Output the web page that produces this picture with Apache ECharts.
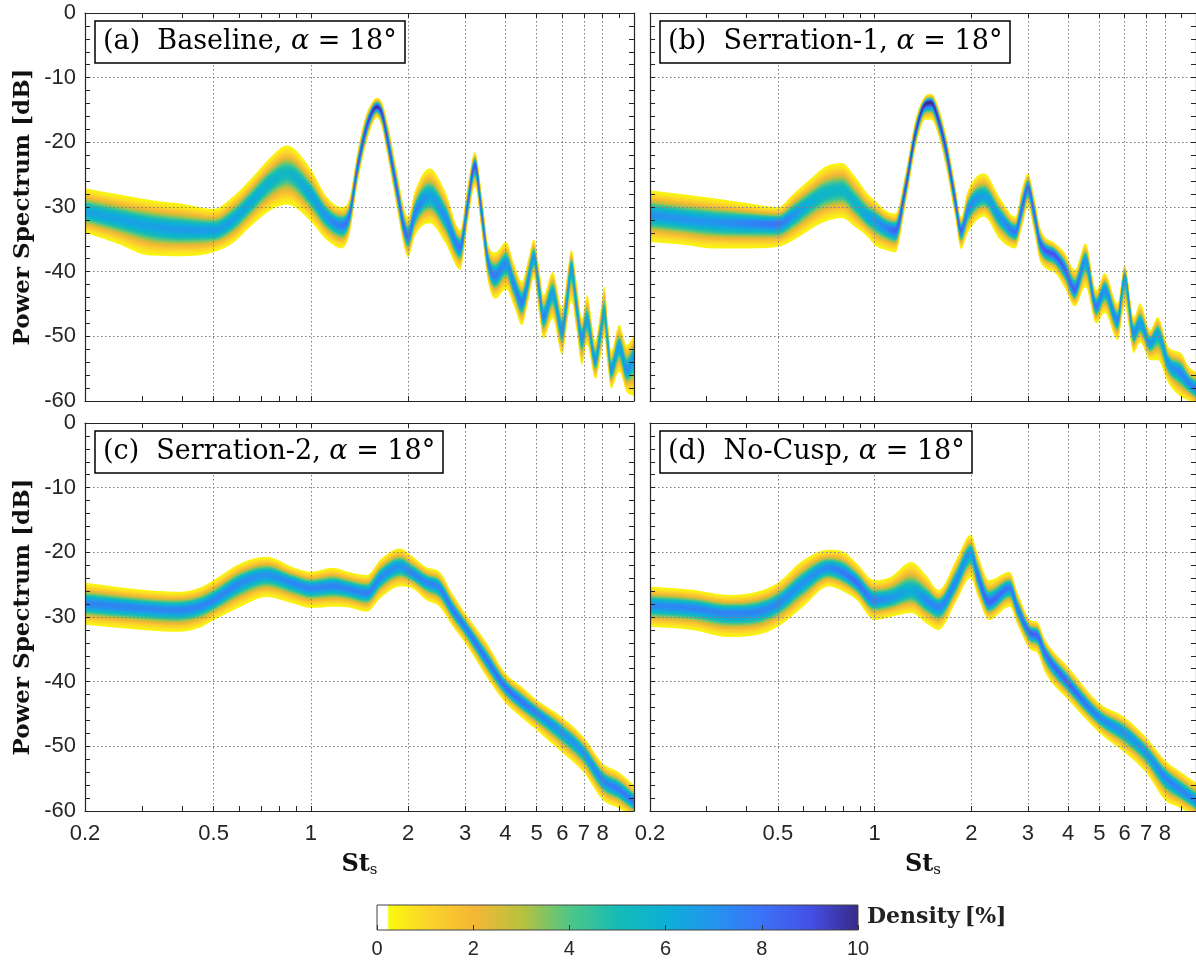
<!DOCTYPE html>
<html><head><meta charset="utf-8">
<script src="https://cdn.jsdelivr.net/npm/echarts@6/dist/echarts.min.js"></script>
<style>html,body{margin:0;padding:0;background:#fff;}#c{width:1196px;height:961px;}</style>
</head><body><div id="c"></div>
<script>
// ---------------- data ----------------
// st = Strouhal number, hi/lo = outer envelope [dB], mid = densest line [dB], pk = density at the core [%]
// (a) Baseline
const stA  = [0.2,0.25,0.318,0.4,0.5,0.58,0.648,0.75,0.844,0.99,1.12,1.25,1.32,1.39,1.47,1.53,1.60,1.66,1.72,1.84,1.95,2.0,2.1,2.33,2.6,2.9,3.05,3.22,3.38,3.54,3.72,4.02,4.25,4.5,4.7,4.9,5.08,5.25,5.6,6.0,6.2,6.4,6.65,6.9,7.15,7.6,7.85,8.1,8.3,8.5,9.0,9.5,10];
const hiA  = [-27.1,-28.0,-28.9,-29.5,-30.3,-28.2,-25.8,-22.3,-20.5,-23.8,-28.4,-30.0,-28.5,-21.8,-16.3,-14.2,-13.1,-13.8,-16.5,-24.0,-30.5,-31.5,-27.5,-24.0,-27.5,-33.5,-27.0,-21.5,-28.0,-35.8,-37.0,-35.4,-38.7,-41.5,-38.2,-35.0,-39.2,-43.6,-40.0,-45.6,-40.8,-36.6,-41.7,-47.2,-43.6,-50.7,-46.7,-42.3,-47.7,-52.3,-48.2,-51.3,-49.8];
const midA = [-30.7,-31.8,-32.9,-33.5,-33.6,-31.8,-29.4,-26.1,-24.7,-27.9,-31.5,-32.8,-31.0,-24.3,-18.6,-15.8,-14.5,-15.5,-19.1,-26.9,-33.5,-34.6,-31.0,-28.4,-31.5,-36.2,-30.0,-23.5,-31.0,-38.5,-40.6,-38.7,-42.0,-44.7,-41.5,-37.7,-42.5,-47.0,-43.3,-49.0,-44.5,-39.3,-45.5,-50.1,-47.5,-53.7,-50.0,-46.4,-51.0,-55.2,-51.6,-55.2,-53.0];
const loA  = [-34.0,-35.6,-37.5,-37.6,-37.0,-35.4,-33.1,-30.5,-29.6,-32.0,-35.1,-36.4,-34.0,-26.8,-21.0,-18.0,-16.2,-17.8,-21.7,-29.8,-36.5,-37.8,-34.5,-32.5,-35.5,-39.7,-33.0,-26.9,-34.0,-41.7,-44.2,-42.7,-45.3,-48.3,-44.8,-41.0,-46.3,-50.4,-47.3,-52.9,-48.3,-44.6,-49.3,-54.4,-51.3,-56.6,-53.8,-50.3,-54.8,-58.1,-55.5,-58.6,-59.2];
const pkA  = [6.5,6.5,6.6,6.8,6.8,6.5,6.3,5.8,5.3,6.5,7.0,7.8,8.2,9.0,9.3,9.6,10,9.6,9.2,8.8,8.5,8.2,7.8,6.5,7.2,8.0,8.5,9.0,8.5,8.0,7.8,7.2,7.5,7.8,7.3,7.0,7.3,7.5,6.5,7.3,7.0,6.5,7.0,7.2,6.3,7.0,6.5,6.0,6.5,7.0,6.5,7.2,7.0];
// (b) Serration-1
const stB  = [0.2,0.25,0.313,0.4,0.5,0.56,0.626,0.70,0.79,0.87,0.95,1.0,1.08,1.16,1.25,1.34,1.44,1.50,1.58,1.67,1.78,1.86,1.95,2.19,2.45,2.74,2.88,3.0,3.14,3.28,3.64,3.9,4.2,4.53,4.9,5.2,5.7,6.0,6.4,6.7,7.2,7.6,8.2,9.0,9.5,10];
const hiB  = [-27.4,-28.0,-28.6,-29.4,-30.0,-27.9,-25.8,-23.8,-23.2,-25.3,-27.9,-28.9,-30.5,-31.0,-24.5,-16.5,-12.8,-12.5,-14.5,-19.0,-26.5,-31.5,-27.5,-24.8,-28.5,-31.5,-27.0,-24.8,-28.5,-33.3,-35.6,-37.0,-39.7,-35.6,-42.8,-40.2,-44.9,-39.0,-47.0,-44.9,-49.0,-47.0,-51.6,-52.6,-54.7,-55.5];
const midB = [-31.2,-31.8,-32.3,-32.5,-32.6,-31.2,-29.4,-27.9,-27.4,-29.4,-31.5,-32.0,-33.1,-33.6,-26.9,-18.6,-14.0,-13.8,-16.5,-21.2,-28.9,-33.6,-30.5,-28.4,-31.5,-33.8,-30.0,-26.9,-31.0,-35.6,-37.4,-39.5,-42.8,-38.2,-45.4,-42.8,-47.5,-40.8,-49.5,-48.0,-51.0,-49.5,-54.1,-55.7,-57.2,-58.0];
const loB  = [-35.4,-35.8,-36.4,-36.4,-36.2,-35.1,-33.6,-32.3,-31.7,-33.1,-34.6,-35.9,-36.6,-37.0,-29.5,-21.0,-16.5,-16.5,-19.0,-24.0,-31.5,-36.5,-34.0,-31.5,-35.0,-36.4,-33.0,-30.0,-34.0,-38.5,-40.2,-42.5,-45.4,-42.4,-48.0,-46.4,-50.6,-45.4,-52.6,-51.0,-53.7,-53.7,-57.2,-59.4,-60.0,-61.0];
const pkB  = [7,7,7,7.5,8,7,6,5.6,5.5,5.8,6.5,6.8,7.5,8.5,9.3,9.6,10,10,9.7,9.4,9,8.5,7.5,6.5,7,8,8.5,8.5,8.5,8.7,9,8.5,8.5,6.8,8,7.2,7.5,6.5,7.5,6.8,7.2,6.3,7,7.5,7.5,7.5];
// (c) Serration-2
const stC  = [0.2,0.302,0.385,0.45,0.5,0.606,0.73,0.88,1.0,1.17,1.3,1.49,1.65,1.89,2.05,2.28,2.5,2.75,3.0,3.5,4.0,4.5,5.0,6.0,7.0,8.0,9.0,10];
const hiC  = [-24.7,-25.8,-26.1,-25.5,-24.3,-21.7,-20.7,-22.3,-23.0,-22.4,-23.0,-23.5,-21.0,-19.4,-20.5,-22.3,-23.0,-26.5,-29.4,-34.0,-38.7,-40.8,-42.8,-45.5,-48.6,-52.6,-54.0,-56.0];
const midC = [-27.9,-28.6,-28.9,-28.4,-27.4,-24.7,-23.5,-24.7,-25.5,-25.2,-25.6,-26.3,-23.8,-22.2,-23.2,-24.6,-25.5,-28.9,-31.5,-36.6,-40.8,-43.1,-44.8,-47.9,-51.0,-55.2,-56.7,-58.6];
const loC  = [-31.2,-32.0,-32.3,-31.7,-30.5,-28.4,-26.9,-27.9,-28.6,-28.4,-28.5,-29.2,-27.0,-25.3,-25.5,-27.4,-28.4,-31.5,-34.0,-39.3,-43.3,-45.6,-47.5,-51.0,-54.1,-58.3,-59.6,-61.2];
const pkC  = [7.5,7.5,7.5,7.5,7.5,7.3,7.0,7.4,7.5,7.5,7.5,7.6,7.4,7.0,7.5,7.5,7.5,7.8,7.8,8.0,8.2,8.0,7.5,7.0,7.0,7.5,7.8,7.8];
// (d) No-Cusp
const stD  = [0.2,0.27,0.354,0.43,0.5,0.6,0.72,0.8,0.88,1.0,1.12,1.3,1.45,1.58,1.8,1.99,2.1,2.27,2.63,2.8,3.06,3.2,3.4,4.0,5.0,6.0,7.0,8.0,9.0,10];
const hiD  = [-25.3,-25.8,-26.6,-26.1,-24.7,-21.2,-19.6,-19.9,-21.7,-24.3,-23.8,-21.5,-23.6,-25.8,-21.0,-17.3,-20.5,-24.3,-23.0,-26.5,-30.5,-30.7,-33.6,-37.7,-43.3,-45.5,-48.6,-52.1,-54.0,-55.6];
const midD = [-28.2,-28.6,-29.4,-29.2,-27.9,-24.7,-22.4,-23.2,-24.7,-27.4,-27.1,-26.0,-27.4,-28.4,-24.3,-20.1,-23.8,-27.7,-25.5,-28.9,-32.5,-32.8,-35.6,-40.2,-45.5,-47.9,-51.0,-54.7,-56.8,-58.5];
const loD  = [-31.5,-32.0,-33.1,-32.8,-31.5,-28.4,-25.3,-26.1,-27.4,-30.5,-30.0,-29.4,-31.0,-32.0,-27.5,-24.0,-27.0,-30.5,-28.4,-31.5,-35.1,-35.5,-38.7,-42.8,-47.9,-51.0,-54.1,-58.3,-59.6,-61.0];
const pkD  = [7.3,7.5,7.5,7.5,7.3,7.0,7.3,7.8,8.2,7.5,7.0,6.0,7.3,7.5,7.5,6.8,8.3,8.5,7.8,8.0,8.5,8.5,8.2,8.5,7.5,7.0,7.0,7.5,7.5,7.5];

const panelTitles = ['(a)  Baseline, {i|α} = 18°', '(b)  Serration-1, {i|α} = 18°', '(c)  Serration-2, {i|α} = 18°', '(d)  No-Cusp, {i|α} = 18°'];
const xTickValues  = [0.2,0.3,0.4,0.5,0.6,0.7,0.8,0.9,1,2,3,4,5,6,7,8,9,10];
const xLabelValues = [0.2,0.5,1,2,3,4,5,6,7,8];
const xGridValues  = [0.5,1,2,3,4,5,6,7,8];
// colour map: density [%] -> colour
const cmapDensity = [0, 0.2, 0.22, 1.0, 2.0, 3.0, 4.0, 5.0, 6.0, 7.0, 8.0, 9.0, 10.0];
const cmapColors  = ['#ffffff','#ffffff','#f9fb0e','#fbd62a','#f5b735','#b9c13d','#4fc786','#15bbb6','#0cb0d6','#2494ee','#3b72f7','#4650e6','#352a87'];

// ---------------- helpers ----------------
const LAYERS = 18, EDGE = 0.3;
function hex2rgb(h){return [parseInt(h.substr(1,2),16),parseInt(h.substr(3,2),16),parseInt(h.substr(5,2),16)];}
const cmapRGB = cmapColors.map(hex2rgb);
function cmap(d){
  if (d <= cmapDensity[0]) return cmapColors[0];
  for (let i=1;i<cmapDensity.length;i++){
    if (d <= cmapDensity[i]){
      const t=(d-cmapDensity[i-1])/(cmapDensity[i]-cmapDensity[i-1]);
      const a=cmapRGB[i-1], b=cmapRGB[i];
      return 'rgb('+Math.round(a[0]+t*(b[0]-a[0]))+','+Math.round(a[1]+t*(b[1]-a[1]))+','+Math.round(a[2]+t*(b[2]-a[2]))+')';
    }
  }
  return cmapColors[cmapColors.length-1];
}
function tangents(xs, ys){
  const n=xs.length, d=[], m=new Array(n);
  for(let i=0;i<n-1;i++) d.push((ys[i+1]-ys[i])/(xs[i+1]-xs[i]));
  m[0]=d[0]; m[n-1]=d[n-2];
  for(let i=1;i<n-1;i++) m[i]=(d[i-1]*d[i]<=0)?0:(d[i-1]+d[i])/2;
  for(let i=0;i<n-1;i++){
    if(d[i]===0){m[i]=0;m[i+1]=0;continue;}
    const a=m[i]/d[i], b=m[i+1]/d[i], s=a*a+b*b;
    if(s>9){const t=3/Math.sqrt(s); m[i]=t*a*d[i]; m[i+1]=t*b*d[i];}
  }
  return m;
}
function curvePath(xs, ys, reverse){
  const m=tangents(xs,ys), n=xs.length; let s='';
  if(!reverse){
    for(let i=0;i<n-1;i++){const h=xs[i+1]-xs[i];
      s+=' C'+(xs[i]+h/3)+' '+(ys[i]+m[i]*h/3)+' '+(xs[i+1]-h/3)+' '+(ys[i+1]-m[i+1]*h/3)+' '+xs[i+1]+' '+ys[i+1];}
  } else {
    for(let i=n-1;i>0;i--){const h=xs[i]-xs[i-1];
      s+=' C'+(xs[i]-h/3)+' '+(ys[i]-m[i]*h/3)+' '+(xs[i-1]+h/3)+' '+(ys[i-1]+m[i-1]*h/3)+' '+xs[i-1]+' '+ys[i-1];}
  }
  return s;
}
function bandRenderer(st, hi, mid, lo, pk){
  return function(params, api){
    const k = api.value(2), n = st.length;
    const xs=[], yc=[], yh=[], yl=[];
    for(let i=0;i<n;i++){
      const c=api.coord([st[i], mid[i]]);
      xs.push(c[0]); yc.push(c[1]);
      yh.push(api.coord([st[i], hi[i]])[1]);
      yl.push(api.coord([st[i], lo[i]])[1]);
    }
    const f = 1 - k/LAYERS, fm = Math.max(0, f - 0.5/LAYERS);
    const yu = yc.map((y,i)=>y+f*(yh[i]-y));
    const yd = yc.map((y,i)=>y+f*(yl[i]-y));
    const x0=xs[0], x1=xs[n-1], stops=[];
    for(let i=0;i<n;i++){
      const D0=pk[i];
      const dd=D0*Math.pow(EDGE/D0, fm*fm);
      stops.push({offset:(xs[i]-x0)/(x1-x0), color:cmap(dd)});
    }
    const p='M'+xs[0]+' '+yu[0]+curvePath(xs,yu,false)+' L'+xs[n-1]+' '+yd[n-1]+curvePath(xs,yd,true)+' Z';
    const cs=params.coordSys;
    return {type:'path', shape:{pathData:p},
      style:{fill:{type:'linear',x:x0,y:0,x2:x1,y2:0,global:true,colorStops:stops}},
      clipPath:{type:'rect', shape:{x:cs.x, y:cs.y, width:cs.width, height:cs.height}}};
  };
}

// ---------------- layout ----------------
const gridsPx = [
  {left:85,  top:13,  width:549, height:388},
  {left:650, top:13,  width:549, height:388},
  {left:85,  top:423, width:549, height:388},
  {left:650, top:423, width:549, height:388}
];
const AX = '#262626';
const sans = 'Liberation Sans';
const serif = 'DejaVu Serif';
const dotted = {color:'#7d7d7d', width:1, type:[1.5,2.5]};
const panelData = [[stA,hiA,midA,loA,pkA],[stB,hiB,midB,loB,pkB],[stC,hiC,midC,loC,pkC],[stD,hiD,midD,loD,pkD]];

const xAxes=[], yAxes=[], series=[], titles=[];
const layerData = []; for(let k=0;k<LAYERS;k++) layerData.push([1,-30,k]);
gridsPx.forEach((g,gi)=>{
  const bottomRow = gi>=2, leftCol = gi%2===0;
  const baseX = {type:'log', logBase:10, min:0.2, max:10, gridIndex:gi, z:3};
  xAxes.push(Object.assign({}, baseX, {
    position:'bottom',
    axisLine:{show:true,onZero:false,lineStyle:{color:AX,width:1.2}},
    axisTick:{show:true,inside:true,length:5,customValues:xTickValues,lineStyle:{color:AX,width:1}},
    axisLabel:{show:bottomRow,customValues:xLabelValues,fontFamily:sans,fontSize:22,color:AX,margin:12,
      formatter:v=>String(+(+v).toPrecision(3))},
    splitLine:{show:false},
    name: bottomRow ? '{b|St}{s|s}' : '',
    nameLocation:'middle', nameGap:40,
    nameTextStyle:{rich:{b:{fontFamily:serif,fontWeight:'bold',fontSize:24,color:'#111'},
                         s:{fontFamily:serif,fontSize:15,color:'#111',padding:[12,0,0,0]}}}
  }));
  xAxes.push(Object.assign({}, baseX, {
    position:'top',
    axisLine:{show:true,onZero:false,lineStyle:{color:AX,width:1.2}},
    axisTick:{show:true,inside:true,length:5,customValues:xTickValues,lineStyle:{color:AX,width:1}},
    axisLabel:{show:false}, splitLine:{show:false}
  }));
  xAxes.push(Object.assign({}, baseX, {
    position:'bottom',
    axisLine:{show:false,onZero:false}, axisTick:{show:false,customValues:xGridValues},
    axisLabel:{show:false}, splitLine:{show:true,lineStyle:dotted}
  }));
  yAxes.push({type:'value', min:-60, max:0, interval:10, gridIndex:gi, position:'left', z:3,
    axisLine:{show:true,onZero:false,lineStyle:{color:AX,width:1.2}},
    axisTick:{show:true,inside:true,length:5,lineStyle:{color:AX,width:1}},
    minorTick:{show:true,splitNumber:5,length:5,lineStyle:{color:AX,width:1}},
    axisLabel:{show:leftCol,fontFamily:sans,fontSize:22,color:AX,margin:9},
    splitLine:{show:true,lineStyle:dotted},
    name: leftCol ? 'Power Spectrum [dB]' : '', nameLocation:'middle', nameGap:50, nameRotate:90,
    nameTextStyle:{fontFamily:serif,fontWeight:'bold',fontSize:23,color:'#111'}
  });
  yAxes.push({type:'value', min:-60, max:0, interval:10, gridIndex:gi, position:'right', z:3,
    axisLine:{show:true,onZero:false,lineStyle:{color:AX,width:1.2}},
    axisTick:{show:true,inside:true,length:5,lineStyle:{color:AX,width:1}},
    minorTick:{show:true,splitNumber:5,length:5,lineStyle:{color:AX,width:1}},
    axisLabel:{show:false}, splitLine:{show:false}
  });
  const pd = panelData[gi];
  series.push({type:'custom', xAxisIndex:gi*3, yAxisIndex:gi*2, coordinateSystem:'cartesian2d',
    renderItem:bandRenderer(pd[0],pd[1],pd[2],pd[3],pd[4]), data:layerData, encode:{x:0,y:1}, silent:true, z:2});
  titles.push({text:panelTitles[gi], left:g.left+10, top:g.top+8,
    padding:[6,8,6,8], borderColor:'#000', borderWidth:1.5, backgroundColor:'#fff', z:8,
    textStyle:{fontFamily:serif,fontWeight:'normal',fontSize:27,color:'#000',lineHeight:30,
      rich:{i:{fontFamily:serif,fontStyle:'italic',fontSize:27,color:'#000'}}}});
});
// colour bar
const cbGrid = {left:377, top:905, width:481, height:25};
xAxes.push({type:'value', min:0, max:10, interval:2, gridIndex:4, position:'bottom', z:3,
  axisLine:{show:false,onZero:false},
  axisTick:{show:true,inside:true,length:5,lineStyle:{color:'#333',width:1}},
  axisLabel:{show:true,fontFamily:sans,fontSize:20,color:AX,margin:9},
  splitLine:{show:false}});
yAxes.push({type:'value', min:0, max:1, gridIndex:4, show:false});
series.push({type:'custom', xAxisIndex:12, yAxisIndex:8, coordinateSystem:'cartesian2d', silent:true, z:2,
  data:[[0,0]],
  renderItem:function(params, api){
    const p0=api.coord([0,1]), p1=api.coord([10,0]);
    const stops=[]; for(let d=0; d<=10.0001; d+=0.05) stops.push({offset:Math.min(1,d/10), color:cmap(d)});
    return {type:'rect', shape:{x:p0[0], y:p0[1], width:p1[0]-p0[0], height:p1[1]-p0[1]},
      style:{fill:{type:'linear',x:p0[0],y:0,x2:p1[0],y2:0,global:true,colorStops:stops}, stroke:'#444', lineWidth:1}};
  }});
titles.push({text:'{b|Density} {r|[%]}', left:867, top:906, padding:0,
  textStyle:{rich:{b:{fontFamily:serif,fontWeight:'bold',fontSize:22,color:'#222'},
                   r:{fontFamily:serif,fontSize:22,color:'#222'}}}});

const chart = echarts.init(document.getElementById('c'), null, {renderer:'canvas'});
chart.setOption({
  animation:false, backgroundColor:'#ffffff',
  title:titles,
  grid:gridsPx.concat([cbGrid]),
  xAxis:xAxes, yAxis:yAxes, series:series
});
</script></body></html>
